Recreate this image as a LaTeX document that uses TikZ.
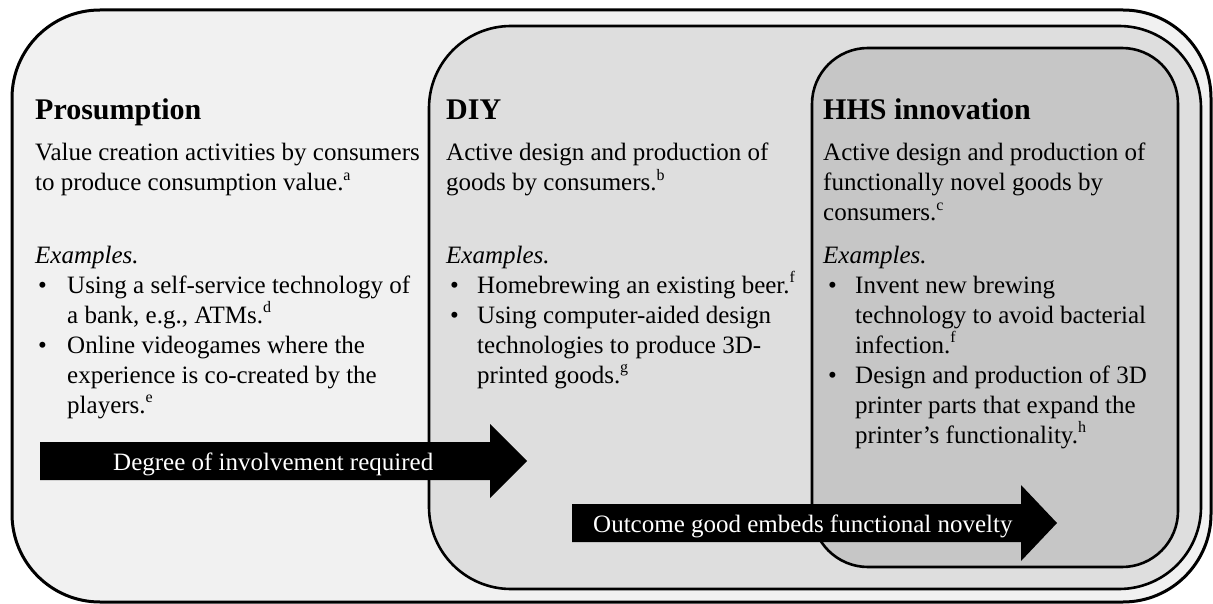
\documentclass[tikz,border=0pt]{standalone}
\usepackage{fontspec}
\setmainfont{Liberation Serif}
\definecolor{outerfill}{HTML}{F1F1F1}
\definecolor{diyfill}{HTML}{DEDEDE}
\definecolor{hhsfill}{HTML}{C6C6C6}
% small raised reference letter
\newcommand{\refmark}[1]{\raisebox{0.42em}{\fontsize{16}{16}\selectfont #1}}
\begin{document}
\begin{tikzpicture}[x=1pt,y=-1pt,
  panel/.style={draw=black, line width=2.6pt},
  heading/.style={anchor=base west, inner sep=0pt, font=\fontsize{30}{34}\selectfont\bfseries},
  body/.style={anchor=base west, inner sep=0pt, font=\fontsize{25}{30}\selectfont},
  arrowlabel/.style={anchor=base west, inner sep=0pt, text=white, font=\fontsize{25}{30}\selectfont}]
\useasboundingbox (0,0) rectangle (1213,604);
\fill[white] (0,0) rectangle (1213,604);

% nested panels
\draw[panel, line width=3pt, fill=outerfill, rounded corners=88pt] (12,10) rectangle (1211,602);
\draw[panel, fill=diyfill, rounded corners=82pt] (429,26) rectangle (1201,589);
\draw[panel, fill=hhsfill, rounded corners=56pt] (812,48) rectangle (1178,567);

% Prosumption column
\node[heading] (p-title) at (35,120) {Prosumption};
\node[body] (p-l1) at (35,161) {Value creation activities by consumers};
\node[body] (p-l2) at (35,191) {to produce consumption value.\refmark{a}};
\node[body] (p-ex) at (35,263) {\itshape Examples.};
\node[body] (p-b1) at (38,293) {\textbullet};
\node[body] (p-t1) at (67,293) {Using a self-service technology of};
\node[body] (p-t2) at (67,323) {a bank, e.g., ATMs.\refmark{d}};
\node[body] (p-b2) at (38,353) {\textbullet};
\node[body] (p-t3) at (67,353) {Online videogames where the};
\node[body] (p-t4) at (67,383) {experience is co-created by the};
\node[body] (p-t5) at (67,413) {players.\refmark{e}};

% DIY column
\node[heading] (d-title) at (446,120) {DIY};
\node[body] (d-l1) at (446,161) {Active design and production of};
\node[body] (d-l2) at (446,191) {goods by consumers.\refmark{b}};
\node[body] (d-ex) at (446,263) {\itshape Examples.};
\node[body] (d-b1) at (450,293) {\textbullet};
\node[body] (d-t1) at (477,293) {Homebrewing an existing beer.\refmark{f}};
\node[body] (d-b2) at (450,323) {\textbullet};
\node[body] (d-t2) at (477,323) {Using computer-aided design};
\node[body] (d-t3) at (477,353) {technologies to produce 3D-};
\node[body] (d-t4) at (477,383) {printed goods.\refmark{g}};

% HHS innovation column
\node[heading] (h-title) at (823,120) {HHS innovation};
\node[body] (h-l1) at (823,161) {Active design and production of};
\node[body] (h-l2) at (823,191) {functionally novel goods by};
\node[body] (h-l3) at (823,221) {consumers.\refmark{c}};
\node[body] (h-ex) at (823,263) {\itshape Examples.};
\node[body] (h-b1) at (828,293) {\textbullet};
\node[body] (h-t1) at (855,293) {Invent new brewing};
\node[body] (h-t2) at (855,323) {technology to avoid bacterial};
\node[body] (h-t3) at (855,353) {infection.\refmark{f}};
\node[body] (h-b2) at (828,383) {\textbullet};
\node[body] (h-t4) at (855,383) {Design and production of 3D};
\node[body] (h-t5) at (855,413) {printer parts that expand the};
\node[body] (h-t6) at (855,443) {printer’s functionality.\refmark{h}};

% block arrows
\fill[black] (40,442) -- (490,442) -- (490,424) -- (527,461) -- (490,498) -- (490,480) -- (40,480) -- cycle;
\node[arrowlabel] (a1) at (113,470) {Degree of involvement required};
\fill[black] (572,504) -- (1021,504) -- (1021,485) -- (1057,523) -- (1021,561) -- (1021,542) -- (572,542) -- cycle;
\node[arrowlabel] (a2) at (593,532) {Outcome good embeds functional novelty};
\end{tikzpicture}
\end{document}
